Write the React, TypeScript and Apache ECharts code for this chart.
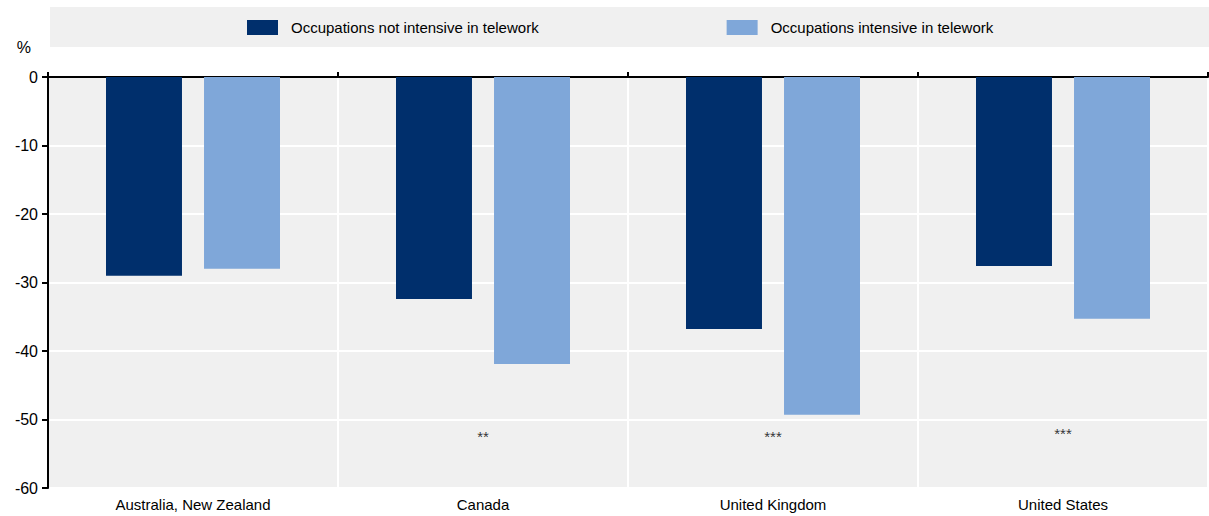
import React, { useEffect, useRef } from "react";
import * as echarts from "echarts";

const categories = ["Australia, New Zealand", "Canada", "United Kingdom", "United States"];
const notIntensive = [-29.0, -32.4, -36.8, -27.6];
const intensive = [-28.0, -41.9, -49.3, -35.3];
const significance = ["", "**", "***", "***"];
const significanceY = [-52.5, -52.5, -52.5, -52.0];
const seriesNames = ["Occupations not intensive in telework", "Occupations intensive in telework"];
const yTicks = { min: -60, max: 0, interval: 10 };

const FONT = "'Liberation Sans', Arial, sans-serif";

export default function App() {
  const ref = useRef<HTMLDivElement>(null);
  useEffect(() => {
    if (!ref.current) return;
    const chart = echarts.init(ref.current, null, { renderer: "svg" });
    chart.setOption({
      animation: false,
      textStyle: { fontFamily: FONT },
      graphic: [
        {
          type: "rect",
          left: 50,
          top: 7,
          shape: { width: 1159, height: 40 },
          style: { fill: "#f0f0f0" },
          z: -1,
        },
      ],
      legend: {
        top: 15,
        left: 242,
        itemWidth: 31,
        itemHeight: 15,
        itemGap: 188,
        icon: "rect",
        data: seriesNames,
        textStyle: { fontSize: 15, color: "#000", fontFamily: FONT, padding: [0, 0, 0, 8] },
      },
      grid: {
        left: 48,
        right: 1,
        top: 77,
        bottom: 28,
        show: true,
        backgroundColor: "#f0f0f0",
        borderWidth: 0,
      },
      xAxis: [
        {
          type: "category",
          data: categories,
          position: "bottom",
          axisLine: { show: false },
          axisTick: { show: false },
          axisLabel: { fontSize: 15, color: "#000", margin: 9, fontFamily: FONT },
          splitLine: { show: true, lineStyle: { color: "#ffffff", width: 2 } },
        },
        {
          type: "category",
          data: categories,
          position: "top",
          axisLine: { show: true, onZero: false, lineStyle: { color: "#000", width: 2 } },
          axisTick: { show: true, length: 5, lineStyle: { color: "#000", width: 2 } },
          axisLabel: { show: false },
          splitLine: { show: false },
        },
      ],
      yAxis: {
        type: "value",
        min: yTicks.min,
        max: yTicks.max,
        interval: yTicks.interval,
        name: "%",
        nameLocation: "end",
        nameGap: 22,
        nameTextStyle: { fontSize: 16, color: "#000", align: "right", padding: [0, 17, 0, 0], fontFamily: FONT },
        axisLine: { show: true, lineStyle: { color: "#000", width: 2 } },
        axisTick: { show: true, length: 6, lineStyle: { color: "#000", width: 2 } },
        axisLabel: { fontSize: 16, color: "#000", margin: 10, fontFamily: FONT },
        splitLine: { show: true, lineStyle: { color: "#ffffff", width: 2 } },
      },
      series: [
        {
          name: seriesNames[0],
          type: "bar",
          data: notIntensive,
          itemStyle: { color: "#002f6c" },
          barCategoryGap: "40%",
          barGap: "29%",
        },
        {
          name: seriesNames[1],
          type: "bar",
          data: intensive,
          itemStyle: { color: "#7fa7d9" },
          barCategoryGap: "40%",
          barGap: "29%",
        },
        {
          name: "significance",
          type: "scatter",
          data: significanceY,
          symbolSize: 1,
          itemStyle: { color: "transparent" },
          label: {
            show: true,
            position: "inside",
            formatter: (p: any) => significance[p.dataIndex],
            fontSize: 15,
            color: "#000",
            fontFamily: FONT,
          },
          silent: true,
        },
      ],
    });
    return () => chart.dispose();
  }, []);
  return <div ref={ref} style={{ width: 1209, height: 516, position: "absolute", left: 0, top: 0 }} />;
}
